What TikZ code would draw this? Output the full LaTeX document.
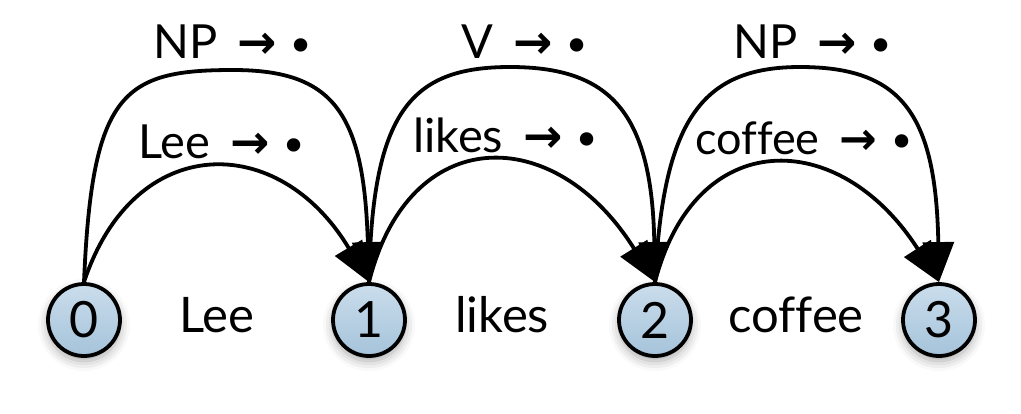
\documentclass[tikz,border=0pt]{standalone}
\usepackage{fontspec}
\setmainfont[Ligatures=NoCommon]{Lato}
\newfontfamily\symfont{DejaVu Sans}
\usetikzlibrary{arrows.meta,shadows.blur}
\newcommand{\rarr}{\hspace{20pt}{\symfont\bfseries →}\hspace{11pt}\raisebox{-4pt}{\symfont\fontsize{46}{46}\selectfont •}}
\begin{document}
\begin{tikzpicture}[x=1pt,y=-1pt,
  state/.style={circle, draw=black, line width=3.8pt, minimum size=72pt, inner sep=0pt,
    top color={rgb,255:red,202;green,221;blue,236}, bottom color={rgb,255:red,165;green,195;blue,218},
    font=\fontsize{50}{50}\selectfont,
    blur shadow={shadow xshift=0pt, shadow yshift=-5pt, shadow blur radius=10pt, shadow opacity=35}},
  lab/.style={font=\fontsize{47}{47}\selectfont, inner sep=0pt, anchor=base west},
  word/.style={font=\fontsize{49}{49}\selectfont, inner sep=0pt, anchor=base west},
  arc/.style={line width=3.8pt, -{Triangle[length=40pt,width=31pt]}}
]
\useasboundingbox (0,0) rectangle (1021,413);

\node[state] (n0) at (84,320) {0};
\node[state] (n1) at (369,320) {1};
\node[state] (n2) at (655,320) {2};
\node[state] (n3) at (939,320) {3};

\node[word] (w1) at (179,332) {Lee};
\node[word] (w2) at (455,332) {likes};
\node[word] (w3) at (728,332) {coffee};

\node[lab] (a1) at (153,58) {NP\rarr};
\node[lab] (a2) at (461,58) {V\rarr};
\node[lab] (a3) at (733,58) {NP\rarr};

\node[lab] (b1) at (138,158) {Lee\rarr};
\node[lab] (b2) at (413,152) {likes\rarr};
\node[lab, font=\fontsize{45}{45}\selectfont] (b3) at (695,154) {coffee\rarr};

\coordinate (t01) at (233,70);
\coordinate (t12) at (510,67);
\coordinate (t23) at (800,67);

% short arcs
\draw[arc] (n0.north) .. controls +(50,-151) and +(-90,-151) .. (n1.north);
\draw[arc] (n1.north) .. controls +(40,-160) and +(-100,-160) .. (n2.north);
\draw[arc] (n2.north) .. controls +(40,-156) and +(-100,-156) .. (n3.north);

% tall arcs
\draw[arc] (n0.north) .. controls +(8,-190) and +(-110,0) .. (t01)
                       .. controls +(100,0) and +(-5,-170) .. (n1.north);
\draw[arc] (n1.north) .. controls +(3,-170) and +(-100,0) .. (t12)
                       .. controls +(100,0) and +(-3,-170) .. (n2.north);
\draw[arc] (n2.north) .. controls +(8,-160) and +(-100,0) .. (t23)
                       .. controls +(100,0) and +(-3,-170) .. (n3.north);
\end{tikzpicture}
\end{document}
